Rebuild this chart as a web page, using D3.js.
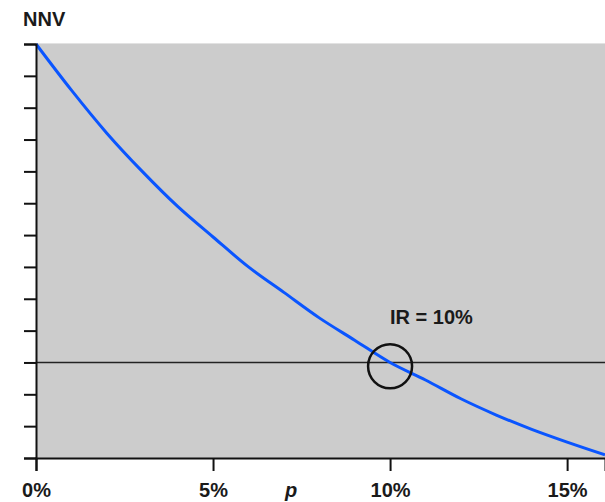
<!DOCTYPE html>
<html>
<head>
<meta charset="utf-8">
<script src="https://cdn.jsdelivr.net/npm/d3@7"></script>
<style>
  html, body { margin: 0; padding: 0; background: #fff; }
  svg { display: block; font-family: 'Liberation Sans', Arial, sans-serif; }
</style>
</head>
<body>
<svg id="chart" width="605" height="502"></svg>
<script>
// p (prevalence) vs NNV curve (y in tick units, no labels)
const pValues = [0, 0.01, 0.02, 0.03, 0.04, 0.05, 0.06, 0.07, 0.08, 0.09, 0.10, 0.11, 0.12, 0.13, 0.14, 0.15, 0.1607];
const nnvValues = [13.0, 11.55, 10.2, 9.0, 7.9, 6.94, 6.0, 5.2, 4.4, 3.7, 3.0, 2.45, 1.86, 1.35, 0.9, 0.5, 0.1];
const xTicks = [0, 0.05, 0.10, 0.15];
const xTickLabels = ['0%', '5%', '10%', '15%'];
const yTicks = d3.range(0, 14);
const refLevel = 3.0;
const irPoint = { p: 0.10, nnv: 2.88, label: 'IR = 10%' };

const svg = d3.select('#chart');
const margin = { top: 44, right: 0, bottom: 44, left: 36 };
const width = 605, height = 502;

const x = d3.scaleLinear()
  .domain([0, 0.1607])
  .range([margin.left, width - margin.right]);
const y = d3.scaleLinear()
  .domain([0, 13])
  .range([height - margin.bottom, margin.top]);

// plot background
svg.append('rect')
  .attr('x', x(0)).attr('y', y(13) - 1)
  .attr('width', x(0.1607) - x(0)).attr('height', y(0) - y(13) + 1)
  .attr('fill', '#cccccc');
svg.append('line')
  .attr('x1', x(0)).attr('x2', x(0.1607))
  .attr('y1', y(13) - 0.5).attr('y2', y(13) - 0.5)
  .attr('stroke', '#e2e2e2').attr('stroke-width', 1);

// reference line
svg.append('line')
  .attr('x1', x(0)).attr('x2', x(0.1607))
  .attr('y1', y(refLevel)).attr('y2', y(refLevel))
  .attr('stroke', '#222').attr('stroke-width', 1.6);

// curve
const line = d3.line()
  .x((d, i) => x(pValues[i]))
  .y((d) => y(d))
  .curve(d3.curveMonotoneX);
svg.append('path')
  .datum(nnvValues)
  .attr('d', line)
  .attr('fill', 'none')
  .attr('stroke', '#0a55ff')
  .attr('stroke-width', 3);

// axes
const yAxis = svg.append('g')
  .attr('transform', `translate(${x(0)},0)`)
  .call(d3.axisLeft(y).tickValues(yTicks).tickSize(12).tickFormat(''));
yAxis.select('.domain').attr('stroke', '#111').attr('stroke-width', 2);
yAxis.selectAll('.tick line').attr('stroke', '#111').attr('stroke-width', 2);

const xAxis = svg.append('g')
  .attr('transform', `translate(0,${y(0)})`)
  .call(d3.axisBottom(x).tickValues(xTicks).tickSize(13)
    .tickFormat((d, i) => xTickLabels[i]));
xAxis.select('.domain').attr('stroke', '#111').attr('stroke-width', 2);
xAxis.selectAll('.tick line').attr('stroke', '#111').attr('stroke-width', 2);
xAxis.selectAll('.tick text')
  .attr('y', 39).attr('dy', 0)
  .attr('fill', '#1a1a1a')
  .attr('font-family', "'Liberation Sans', Arial, sans-serif")
  .attr('font-size', 20).attr('font-weight', 'bold');

// axis titles
svg.append('text')
  .attr('x', 291).attr('y', 497)
  .attr('text-anchor', 'middle')
  .attr('font-size', 20).attr('font-weight', 'bold').attr('font-style', 'italic')
  .attr('fill', '#1a1a1a')
  .text('p');
svg.append('text')
  .attr('x', 23).attr('y', 26)
  .attr('font-size', 20).attr('font-weight', 'bold')
  .attr('fill', '#1a1a1a')
  .text('NNV');

// IR marker
svg.append('circle')
  .attr('cx', x(irPoint.p)).attr('cy', y(irPoint.nnv))
  .attr('r', 22)
  .attr('fill', 'none')
  .attr('stroke', '#111').attr('stroke-width', 2.5);
svg.append('text')
  .attr('x', x(irPoint.p)).attr('y', 324)
  .attr('font-size', 20).attr('font-weight', 'bold')
  .attr('fill', '#1a1a1a')
  .text(irPoint.label);
</script>
</body>
</html>
